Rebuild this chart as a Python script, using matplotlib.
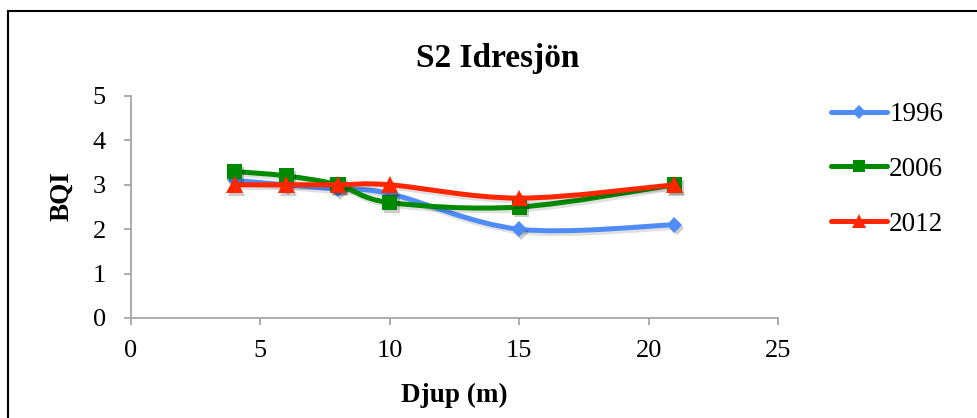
import numpy as np
import matplotlib
matplotlib.use("Agg")
import matplotlib.pyplot as plt
import matplotlib.patheffects as pe
from matplotlib.path import Path
from matplotlib.patches import PathPatch
from matplotlib.lines import Line2D

# BQI per sampling depth, station S2 Idresjön
depth = [4, 6, 8, 10, 15, 21]
bqi_1996 = [3.1, 3.0, 2.9, 2.8, 2.0, 2.1]
bqi_2006 = [3.3, 3.2, 3.0, 2.6, 2.5, 3.0]
bqi_2012 = [3.0, 3.0, 3.0, 3.0, 2.7, 3.0]

years = ["1996", "2006", "2012"]
colors = ["#4f8cf6", "#008a00", "#ff2600"]
markers = ["D", "s", "^"]
marker_sizes = [8, 11, 12]

x_ticks = [0, 5, 10, 15, 20, 25]
y_ticks = [0, 1, 2, 3, 4, 5]

plt.rcParams["font.family"] = ["Liberation Serif", "DejaVu Serif"]


def smooth_path(x, y):
    """Bezier path through the points (Catmull-Rom style, like spreadsheet smoothing)."""
    pts = np.column_stack([x, y]).astype(float)
    n = len(pts)
    verts = [pts[0]]
    codes = [Path.MOVETO]
    for i in range(n - 1):
        p0 = pts[i - 1] if i > 0 else pts[i]
        p1 = pts[i]
        p2 = pts[i + 1]
        p3 = pts[i + 2] if i + 2 < n else pts[i + 1]
        c1 = p1 + (p2 - p0) / 6.0
        c2 = p2 - (p3 - p1) / 6.0
        verts += [c1, c2, p2]
        codes += [Path.CURVE4] * 3
    return Path(verts, codes)


fig = plt.figure(figsize=(9.77, 4.18), dpi=100)
ax = fig.add_axes([131 / 977, 1 - 318 / 418, 647 / 977, 222 / 418])

line_shadow = [pe.SimpleLineShadow(offset=(1.5, -2), alpha=0.12, shadow_color="black"), pe.Normal()]
marker_shadow = [pe.SimplePatchShadow(offset=(1.5, -2), alpha=0.2, shadow_rgbFace="black"), pe.Normal()]

handles = []
for k, series in enumerate([bqi_1996, bqi_2006, bqi_2012]):
    patch = PathPatch(smooth_path(depth, series), facecolor="none", edgecolor=colors[k],
                      lw=3.6, capstyle="round", joinstyle="round", zorder=2 + k,
                      path_effects=line_shadow)
    ax.add_patch(patch)
    ax.plot(depth, series, linestyle="none", marker=markers[k], markersize=marker_sizes[k],
            color=colors[k], markeredgewidth=0, zorder=2.5 + k, path_effects=marker_shadow)
    handles.append(Line2D([], [], color=colors[k], lw=3.6, solid_capstyle="round",
                          marker=markers[k], markersize=marker_sizes[k] * 0.85, markeredgewidth=0))

ax.set_xlim(0, 25)
ax.set_ylim(0, 5)
ax.set_xticks(x_ticks)
ax.set_yticks(y_ticks)

for side in ["top", "right"]:
    ax.spines[side].set_visible(False)
for side in ["left", "bottom"]:
    ax.spines[side].set_color("#a6a6a6")
    ax.spines[side].set_linewidth(1.3)

ax.tick_params(axis="both", direction="out", length=5, width=1.3, color="#a6a6a6",
               labelsize=19, labelcolor="black")
ax.tick_params(axis="y", pad=13)
ax.tick_params(axis="x", pad=11)

ax.set_xlabel("Djup (m)", fontsize=19.5, fontweight="bold")
ax.set_ylabel("BQI", fontsize=19.5, fontweight="bold")
ax.xaxis.set_label_coords(0.5, -0.29)
ax.yaxis.set_label_coords(-0.088, 0.55)

fig.text(498 / 977, 1 - 58 / 418, "S2 Idresjön", fontsize=24, fontweight="bold",
         ha="center", va="center")

fig.legend(handles, years, loc="upper left", bbox_to_anchor=(831 / 977, 1 - 102 / 418),
           frameon=False, fontsize=19.5, handlelength=2.05, handletextpad=0.1,
           labelspacing=1.1, borderpad=0, borderaxespad=0)

# chart frame (top and left edges)
fig.add_artist(Line2D([8 / 977, 1], [1 - 11 / 418] * 2, transform=fig.transFigure,
                      color="black", lw=1.5))
fig.add_artist(Line2D([8 / 977] * 2, [0, 1 - 11 / 418], transform=fig.transFigure,
                      color="black", lw=1.5))

fig.savefig("out.png", dpi=100)
